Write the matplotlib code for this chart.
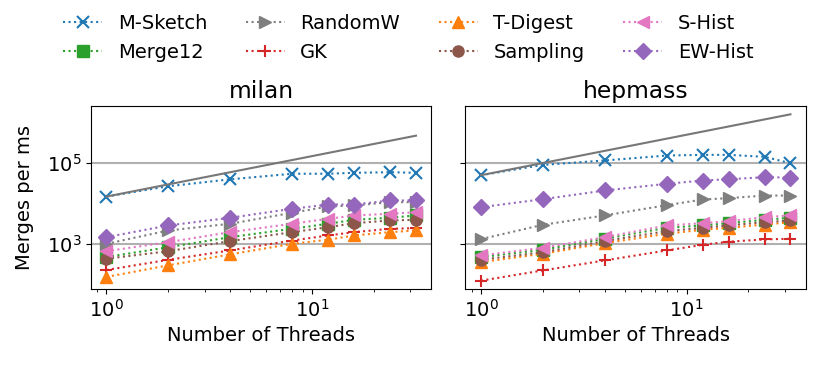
import numpy as np
import matplotlib
matplotlib.use("Agg")
import matplotlib.pyplot as plt

plt.rcParams["font.size"] = 14

threads = [1, 2, 4, 8, 12, 16, 24, 32]
names = ["M-Sketch", "Merge12", "RandomW", "GK", "T-Digest", "Sampling", "S-Hist", "EW-Hist"]
markers = ["x", "s", ">", "+", "^", "o", "<", "D"]
colors = ["C0", "C2", "C7", "C3", "C1", "C5", "C6", "C4"]

# merges per ms
milan = {
    "M-Sketch": [15000, 27000, 40000, 55000, 55000, 58000, 60000, 58000],
    "Merge12": [480, 840, 1490, 2400, 3190, 4000, 4490, 5120],
    "RandomW": [1020, 2180, 3190, 5960, 8530, 9040, 10900, 10900],
    "GK": [230, 410, 700, 1230, 1640, 1980, 2400, 2480],
    "T-Digest": [155, 300, 560, 1020, 1290, 1640, 1980, 2180],
    "Sampling": [436, 670, 1190, 1980, 2630, 3300, 3850, 4000],
    "S-Hist": [670, 1120, 1980, 3190, 4240, 5120, 5640, 6170],
    "EW-Hist": [1490, 2900, 4490, 7480, 9550, 9550, 12000, 12000],
}
hepmass = {
    "M-Sketch": [50600, 91000, 117000, 155000, 161000, 161000, 144000, 100000],
    "Merge12": [478, 728, 1360, 2540, 2900, 3300, 4000, 4490],
    "RandomW": [1330, 3010, 5120, 9190, 12700, 13700, 15900, 15900],
    "GK": [125, 224, 396, 698, 966, 1150, 1310, 1360],
    "T-Digest": [360, 579, 1060, 1810, 2270, 2540, 3060, 3490],
    "Sampling": [412, 634, 1190, 2100, 2540, 2900, 3490, 3850],
    "S-Hist": [526, 815, 1490, 2900, 3300, 3700, 4650, 5120],
    "EW-Hist": [8200, 12900, 21200, 31000, 37400, 40300, 45100, 44400],
}
# ideal linear scaling line
ideal_threads = [1, 32]
ideal_milan = [15000, 480000]
ideal_hepmass = [50600, 1619000]

fig, axes = plt.subplots(1, 2, figsize=(8.3, 3.65), dpi=100, sharey=True)
fig.subplots_adjust(left=0.1096, right=0.971, top=0.7096, bottom=0.2082, wspace=0.1)

for ax, data, ideal, title in [
    (axes[0], milan, ideal_milan, "milan"),
    (axes[1], hepmass, ideal_hepmass, "hepmass"),
]:
    for name, m, c in zip(names, markers, colors):
        ax.plot(threads, data[name], linestyle=":", marker=m, color=c,
                markersize=8, markeredgewidth=1.5 if m in "x+" else 1, label=name, lw=1.5)
    ax.plot(ideal_threads, ideal, color="#777777", lw=1.5)
    ax.set_xscale("log")
    ax.set_yscale("log")
    ax.set_title(title)
    ax.set_xlabel("Number of Threads")
    ax.set_yticks([1e3, 1e5])
    ax.yaxis.set_minor_locator(matplotlib.ticker.NullLocator())
    ax.grid(axis="y", color="#b0b0b0", lw=1.5)

axes[0].set_ylabel("Merges per ms", labelpad=9)

handles, labels = axes[0].get_legend_handles_labels()
fig.legend(handles, labels, loc="upper center", bbox_to_anchor=(0.492, 1.01), ncol=4,
           frameon=False)

fig.savefig("out.png", dpi=100)
